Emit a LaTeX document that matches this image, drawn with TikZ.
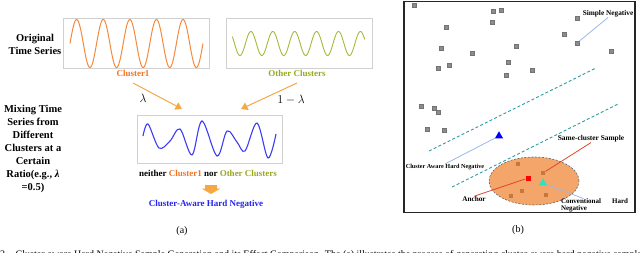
\documentclass[tikz,border=0pt]{standalone}
\usepackage{fontspec}
\setmainfont{Liberation Serif}
\usetikzlibrary{arrows.meta,shapes.geometric,calc}
\definecolor{orwave}{HTML}{F5893C}
\definecolor{ortext}{HTML}{F07424}
\definecolor{grwave}{HTML}{A9B83A}
\definecolor{grtext}{HTML}{98A820}
\definecolor{blwave}{HTML}{3C3CF2}
\definecolor{bltext}{HTML}{2424F0}
\definecolor{arrowor}{HTML}{F7A843}
\definecolor{tealc}{HTML}{2C9CA2}
\definecolor{ellfill}{HTML}{F4A569}
\definecolor{insq}{HTML}{C4783F}
\definecolor{concol}{HTML}{9DB7EA}
\definecolor{redcon}{HTML}{E2452C}
\definecolor{cyantri}{HTML}{2BE3C2}
\begin{document}
\begin{tikzpicture}[x=1pt,y=-1pt,
  lefttxt/.style={font=\bfseries\fontsize{10.5}{13}\selectfont, align=center, inner sep=0},
  tsbox/.style={draw=black!18, line width=0.7pt, inner sep=0},
  clabel/.style={font=\bfseries\fontsize{9}{11}\selectfont, inner sep=0},
  oarrow/.style={draw=arrowor, line width=1pt, -{Triangle[width=8pt,length=6.5pt]}},
  sqg/.style={rectangle, minimum size=4.5pt, inner sep=0, fill=black!45, draw=black!55, line width=0.3pt},
  sqi/.style={rectangle, minimum size=4.6pt, inner sep=0, fill=insq},
  tri/.style={regular polygon, regular polygon sides=3, minimum size=9.5pt, inner sep=0},
  rlab/.style={font=\bfseries, inner sep=0},
  bcon/.style={draw=concol, line width=0.8pt},
  rcon/.style={draw=redcon, line width=0.8pt},
  tdash/.style={draw=tealc, line width=0.9pt, dash pattern=on 3pt off 2.2pt}
]
\useasboundingbox (0,0) rectangle (640,252);
\clip (0,0) rectangle (640,252);

% ---------- panel (a) ----------
\node[lefttxt] (orig) at (35,44) {Original\\Time Series};
\node[lefttxt] (mix) at (33,149) {Mixing Time\\Series from\\Different\\Clusters at a\\Certain\\Ratio(e.g., \textit{λ}\\=0.5)};

\node[tsbox, minimum width=146pt, minimum height=50pt] (b1) at (136,43) {};
\node[tsbox, minimum width=146pt, minimum height=50pt] (b2) at (299,43) {};
\node[tsbox, minimum width=145pt, minimum height=48pt] (b3) at (209.5,139) {};

\draw[orwave, line width=1pt] plot[domain=0:1800, samples=240] ({70+\x/360*26.6}, {43.5-24*sin(\x)});
\draw[grwave, line width=0.9pt] plot[domain=55:2230, samples=260] ({229+\x/360*21.9}, {43.5-12*cos(\x)});
\draw[blwave, line width=1.1pt] plot[smooth, tension=0.55] coordinates {
  (143,136) (148,124) (159,148) (170,141) (180,129) (192,155) (202,121)
  (217,156) (227,131) (237,142) (245,151) (257,123) (268,158) (276,134)};

\node[clabel, text=ortext] (c1) at (133,73) {Cluster1};
\node[clabel, text=grtext] (c2) at (297,73) {Other Clusters};

\coordinate (a1s) at (133,83);
\coordinate (a1e) at (182,109);
\coordinate (a2s) at (297,83);
\coordinate (a2e) at (241,109);
\draw[oarrow] (a1s) -- (a1e);
\draw[oarrow] (a2s) -- (a2e);

\node[font=\fontsize{12}{14}\selectfont, inner sep=0] (lam1) at (143,98) {$\lambda$};
\node[font=\fontsize{12}{14}\selectfont, inner sep=0] (lam2) at (291,100) {$1-\lambda$};

\node[clabel] (neither) at (208,173) {neither \textcolor{ortext}{Cluster1} nor \textcolor{grtext}{Other Clusters}};
\coordinate (ba) at (211,185);
\fill[arrowor] (ba) ++(-6,0) -- ++(12,0) -- ++(0,3.5) -- ++(3.5,0) -- (211,194) -- (201.5,188.5) -- (205,188.5) -- cycle;
\node[clabel, text=bltext] (cahn) at (206,204) {Cluster-Aware Hard Negative};
\node[font=\fontsize{10}{12}\selectfont, inner sep=0] (pa) at (182,231) {(a)};

% ---------- panel (b) ----------
\draw[line width=1.1pt, draw=black!85] (404,1.5) rectangle (635,212.5);

\coordinate (d1a) at (429,151);
\coordinate (d1b) at (596,68);
\coordinate (d2a) at (452,187);
\coordinate (d2b) at (618,104);

\node[ellipse, minimum width=90pt, minimum height=48pt, inner sep=0, fill=ellfill,
      draw=black!60, line width=0.6pt, dash pattern=on 2pt off 1.5pt] (ell) at (534,181) {};

\draw[tdash] (d1a) -- (d1b);
\draw[tdash] (d2a) -- (d2b);

\foreach \px/\py in {414/5, 493/11, 501/10, 492/22, 446/27, 577/18, 564/34, 441/48,
  516/46, 472/53, 611/51, 508/62, 449/65, 438/68, 532/70, 506/75, 421/106,
  434/108, 438/112, 427/129, 444/130}
  \node[sqg] at (\px,\py) {};
\node[sqg] (ssimple) at (577,43) {};

\node[sqi] (i1) at (518,164) {};
\node[sqi] (ssame) at (543,173) {};
\node[sqi] (i3) at (522,191) {};
\node[sqi] (i4) at (511,196) {};
\node[sqi] (i5) at (546,195) {};

\node[rlab, font=\bfseries\fontsize{7.3}{8}\selectfont] (lsimple) at (608,14) {Simple Negative};
\node[rlab, font=\bfseries\fontsize{6.2}{7}\selectfont] (lcah) at (445,167) {Cluster Aware Hard Negative};
\node[rlab, font=\bfseries\fontsize{7.4}{8}\selectfont] (lsame) at (591,139) {Same-cluster Sample};
\node[rlab, font=\bfseries\fontsize{7.2}{8}\selectfont] (lanchor) at (474,199) {Anchor};
\node[rlab, font=\bfseries\fontsize{7}{7}\selectfont, align=left] (lconv) at (594.5,205.5) {Conventional\hspace{11pt}Hard\\Negative};

\node[tri, fill=blue] (btri) at (499,136) {};
\node[rectangle, minimum size=5pt, inner sep=0, fill=red] (anchor) at (528,178) {};
\node[tri, fill=cyantri] (ctri) at (543,183) {};

\draw[bcon] (ssimple) -- (lsimple.south);
\draw[bcon] (lcah.north) -- (btri);
\draw[rcon] (lsame.south) -- (ssame);
\draw[rcon] (lanchor.north) -- (anchor);
\draw[bcon] (ctri) -- ([xshift=-11pt]lconv.north);

\node[font=\fontsize{10}{12}\selectfont, inner sep=0] (pb) at (518,230) {(b)};

% ---------- caption (cut off) ----------
\node[anchor=base west, font=\fontsize{10}{12}\selectfont, inner sep=0] (cap) at (0,257.5)
  {2.\hspace{8pt}Cluster-aware Hard Negative Sample Generation and its Effect Comparison. The (a) illustrates the process of generating cluster-aware hard negative samples, and the (b) compares them.};
\end{tikzpicture}
\end{document}
